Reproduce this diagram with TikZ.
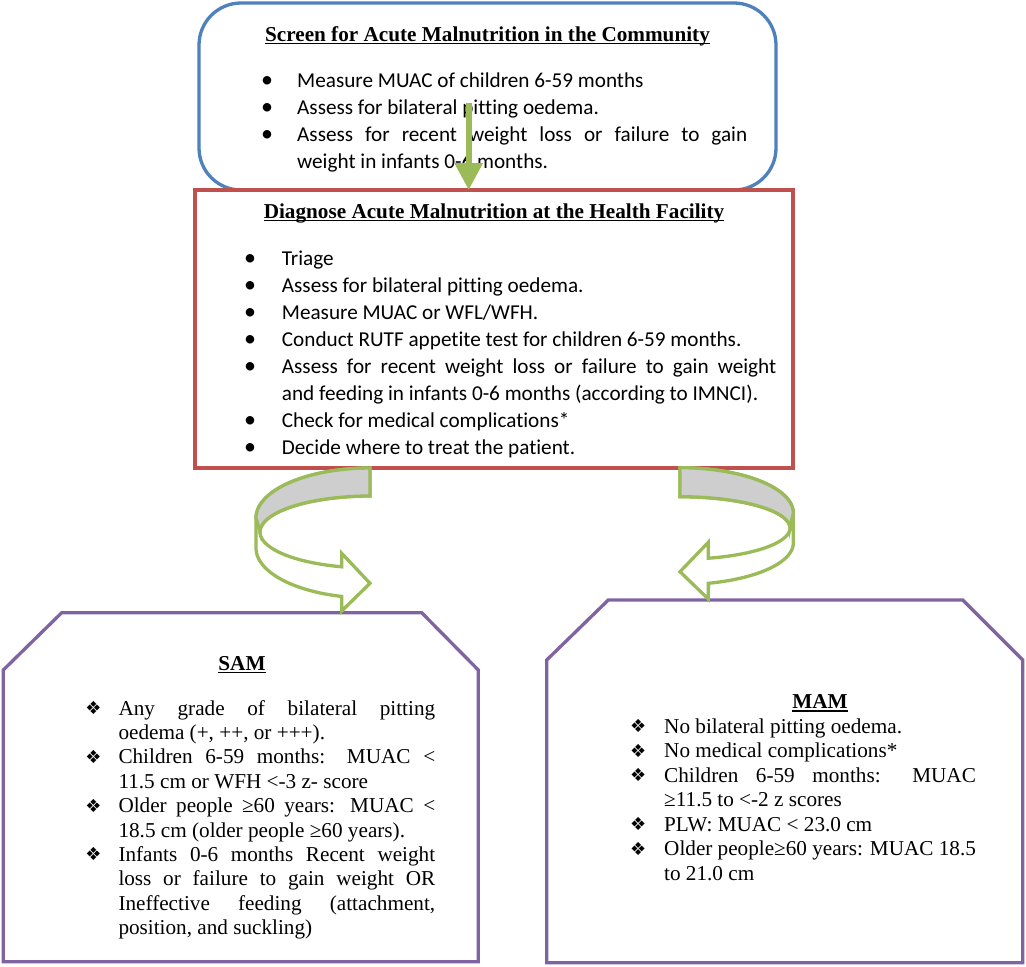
\documentclass[tikz,border=0pt]{standalone}
\usepackage{fontspec}
\setmainfont{Liberation Serif}
\newfontfamily\calfont[Ligatures=NoCommon]{Carlito}
\newfontfamily\symfont{DejaVu Sans}
\usetikzlibrary{arrows.meta}
\definecolor{cblue}{RGB}{79,129,189}
\definecolor{cred}{RGB}{192,80,77}
\definecolor{cgreen}{RGB}{155,187,89}
\definecolor{cpurple}{RGB}{128,100,162}
\definecolor{cgray}{RGB}{206,206,206}
\newcommand\myul[1]{\setbox0=\hbox{#1}\rlap{\copy0}\rule[-3.4pt]{\wd0}{1.3pt}}
\newcommand\bull[2]{\leavevmode\llap{\makebox[0pt][c]{#1}\hspace{#2pt}}}
\newcommand\calbul[1]{\bull{\fontsize{24}{24}\selectfont\textbullet}{#1}}
\newcommand\diabul[1]{\bull{\raisebox{0.5pt}{\symfont\fontsize{18}{18}\selectfont ❖}}{#1}}
\hbadness=10000
\begin{document}
\begin{tikzpicture}[x=1pt,y=-1pt,
  calib/.style={font=\calfont\fontsize{21.2}{27}\selectfont, inner sep=0, align=justify, anchor=base west},
  timesA/.style={font=\fontsize{21.2}{24.4}\selectfont, inner sep=0, align=justify, anchor=base west},
  timesB/.style={font=\fontsize{21.2}{24.5}\selectfont, inner sep=0, align=justify, anchor=base west},
  ttl/.style={font=\bfseries\fontsize{21.2}{25}\selectfont, inner sep=0, anchor=base},
  arr/.style={draw=cgreen, line width=3.3, fill=white},
  arrgray/.style={draw=cgreen, line width=3.3, fill=cgray},
  purplebox/.style={draw=cpurple, line width=3.3, fill=white}]
\useasboundingbox (0,0) rectangle (1026,967);
\fill[white] (0,0) rectangle (1026,967);

% top box
\node[draw=cblue, line width=3.3, rounded corners=42, minimum width=577, minimum height=187, inner sep=0, outer sep=0] (screen) at (487.5,96.5) {};
\node[ttl] (screenttl) at (487.5,41) {\myul{Screen for Acute Malnutrition in the Community}};
\node[calib, text width=450] (screentxt) at (297,87) {\calbul{30}Measure MUAC of children 6-59 months\par
\calbul{30}Assess for bilateral pitting oedema.\par
\calbul{30}Assess for recent weight loss or failure to gain\linebreak weight in infants 0-6 months.};

% middle box
\node[draw=cred, line width=3.3, fill=white, minimum width=598, minimum height=278, inner sep=0, outer sep=0] (diag) at (494,329) {};
\node[ttl] (diagttl) at (494,218) {\myul{Diagnose Acute Malnutrition at the Health Facility}};
\node[calib, text width=494.3] (diagtxt) at (281.7,265) {\calbul{31.7}Triage\par
\calbul{31.7}Assess for bilateral pitting oedema.\par
\calbul{31.7}Measure MUAC or WFL/WFH.\par
\calbul{31.7}Conduct RUTF appetite test for children 6-59 months.\par
\calbul{31.7}Assess for recent weight loss or failure to gain weight\linebreak and feeding in infants 0-6 months (according to IMNCI).\par
\calbul{31.7}Check for medical complications*\par
\calbul{31.7}Decide where to treat the patient.};

% down arrow
\coordinate (astart) at (468.7,103);
\draw[cgreen, line width=6, -{Triangle[length=27pt,width=27pt]}] (astart) -- (astart |- diag.north);

% SAM box
\path[purplebox] (3.3,670) -- (61.7,612.7) -- (421.7,612.7) -- (478.3,670) -- (478.3,961.7) -- (3.3,961.7) -- cycle;
\node[ttl] (samttl) at (242,670) {\myul{SAM}};
\node[timesA, text width=316.7] (samtxt) at (118.3,715) {\diabul{25}Any grade of bilateral pitting\linebreak oedema (+, ++, or +++).\par
\diabul{25}Children 6-59 months: MUAC <\linebreak 11.5 cm or WFH <-3 z- score\par
\diabul{25}Older people ≥60 years: MUAC <\linebreak 18.5 cm (older people ≥60 years).\par
\diabul{25}Infants 0-6 months Recent weight\linebreak loss or failure to gain weight OR\linebreak Ineffective feeding (attachment,\linebreak position, and suckling)};

% MAM box
\path[purplebox] (546.7,660) -- (608.3,600) -- (962.7,600) -- (1022.7,660) -- (1022.7,962.7) -- (546.7,962.7) -- cycle;
\node[ttl] (mamttl) at (820,708.3) {\myul{MAM}};
\node[timesB, text width=311.7] (mamtxt) at (664,733) {\diabul{26}No bilateral pitting oedema.\par
\diabul{26}No medical complications*\par
\diabul{26}Children 6-59 months: MUAC\linebreak ≥11.5 to <-2 z scores\par
\diabul{26}PLW: MUAC < 23.0 cm\par
\diabul{26}Older people≥60 years: MUAC 18.5\linebreak to 21.0 cm};

% left curved arrow
\path[arr] (370,468) -- plot[domain=270:180,samples=40,variable=\t] ({370+114*cos(\t)},{518+50*sin(\t)})
  -- (256,548) -- plot[domain=180:104.4,samples=40,variable=\t] ({370+114*cos(\t)},{548+50*sin(\t)})
  -- (341.7,611) -- (370,583.3) -- (341.7,553.3)
  -- plot[domain=104.9:270,samples=60,variable=\t] ({370+110*cos(\t)},{532+36*sin(\t)}) -- cycle;
\path[arrgray] (370,468) -- plot[domain=270:180,samples=40,variable=\t] ({370+114*cos(\t)},{518+50*sin(\t)})
  -- plot[domain=180:270,samples=40,variable=\t] ({370+110*cos(\t)},{532+36*sin(\t)}) -- cycle;

% right curved arrow
\path[arr] (680,468) -- plot[domain=270:360,samples=40,variable=\t] ({680+113.3*cos(\t)},{513+45.3*sin(\t)})
  -- (793.3,543) -- plot[domain=0:75.5,samples=40,variable=\t] ({680+113.3*cos(\t)},{543+41.6*sin(\t)})
  -- (708.3,599) -- (680,571.7) -- (708.3,542.3)
  -- plot[domain=75.1:-90,samples=60,variable=\t] ({680+110*cos(\t)},{528+31.3*sin(\t)}) -- cycle;
\path[arrgray] (680,468) -- plot[domain=270:360,samples=40,variable=\t] ({680+113.3*cos(\t)},{513+45.3*sin(\t)})
  -- plot[domain=360:270,samples=40,variable=\t] ({680+110*cos(\t)},{528+31.3*sin(\t)}) -- cycle;
\end{tikzpicture}
\end{document}
